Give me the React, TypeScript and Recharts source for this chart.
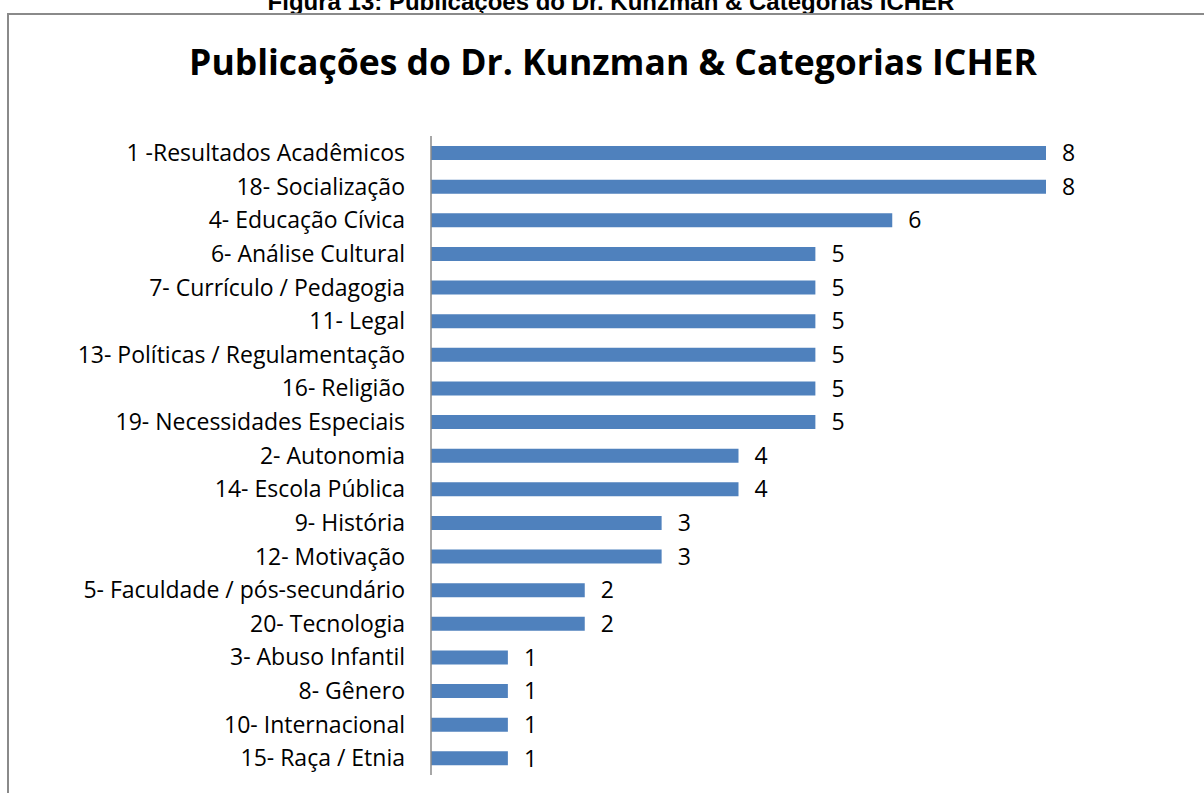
import React from "react";
import { BarChart, Bar, XAxis, YAxis, LabelList } from "recharts";

const categories = [
  "1 -Resultados Acadêmicos",
  "18- Socialização",
  "4- Educação Cívica",
  "6- Análise Cultural",
  "7- Currículo / Pedagogia",
  "11- Legal",
  "13- Políticas / Regulamentação",
  "16- Religião",
  "19- Necessidades Especiais",
  "2- Autonomia",
  "14- Escola Pública",
  "9- História",
  "12- Motivação",
  "5- Faculdade / pós-secundário",
  "20- Tecnologia",
  "3- Abuso Infantil",
  "8- Gênero",
  "10- Internacional",
  "15- Raça / Etnia",
];

const publications = [8, 8, 6, 5, 5, 5, 5, 5, 5, 4, 4, 3, 3, 2, 2, 1, 1, 1, 1];

const data = categories.map((name, i) => ({ name, value: publications[i] }));

const FONT = "'Open Sans', sans-serif";

const App: React.FC = () => {
  return (
    <div style={{ position: "absolute", left: 0, top: 0, width: 1204, height: 793, overflow: "hidden", background: "#fff" }}>
      {/* caption above the box, cut off at the top */}
      <div
        style={{
          position: "absolute",
          left: 0,
          width: 1222,
          top: -11,
          textAlign: "center",
          fontFamily: "'Liberation Sans', Arial, sans-serif",
          fontWeight: "bold",
          fontSize: 24,
          lineHeight: "26px",
          color: "#000",
        }}
      >
        Figura 13: Publicações do Dr. Kunzman & Categorias ICHER
      </div>
      <div
        style={{
          position: "absolute",
          left: 7,
          top: 13,
          width: 1220,
          height: 800,
          border: "2px solid #8a8a8a",
          boxSizing: "border-box",
        }}
      />
      <div
        style={{
          position: "absolute",
          left: 0,
          width: 1226,
          top: 37,
          textAlign: "center",
          fontFamily: FONT,
          fontWeight: "bold",
          fontSize: 35.5,
          lineHeight: "48px",
          color: "#000",
        }}
      >
        Publicações do Dr. Kunzman & Categorias ICHER
      </div>
      <div style={{ position: "absolute", left: 0, top: 0 }}>
        <BarChart
          width={1204}
          height={793}
          data={data}
          layout="vertical"
          margin={{ top: 136, right: 158, bottom: 18, left: 0 }}
        >
          <XAxis type="number" domain={[0, 8]} hide />
          <YAxis
            type="category"
            dataKey="name"
            width={431}
            tickLine={false}
            tickSize={0}
            tickMargin={26}
            axisLine={{ stroke: "#8a8a8a", strokeWidth: 1.5 }}
            interval={0}
            tick={{ fill: "#000", fontSize: 23, fontFamily: FONT }}
          />
          <Bar dataKey="value" fill="#4F81BD" barSize={14} isAnimationActive={false}>
            <LabelList
              dataKey="value"
              position="right"
              offset={16}
              style={{ fill: "#000", fontSize: 23, fontFamily: FONT }}
            />
          </Bar>
        </BarChart>
      </div>
    </div>
  );
};

export default App;
